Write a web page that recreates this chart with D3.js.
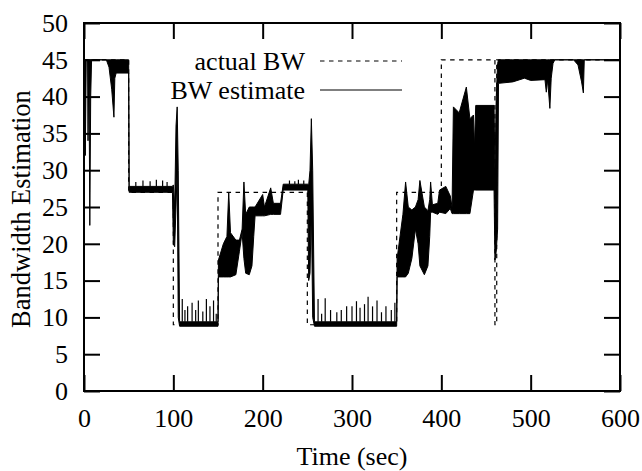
<!DOCTYPE html>
<html>
<head>
<meta charset="utf-8">
<script src="https://cdn.jsdelivr.net/npm/d3@7"></script>
<style>
  body { margin: 0; background: #fff; }
  text { font-family: "Liberation Serif", "Times New Roman", serif; }
</style>
</head>
<body>
<div id="chart"></div>
<script>
// actual bandwidth, a step function: value holds from each start time
var actualStart = [0, 50, 100, 150, 250, 350, 400, 460, 462, 600];
var actualBW    = [45, 27, 9, 27, 9, 27, 45, 9, 45, 45];

// estimated bandwidth, read as a lower / upper envelope (the trace oscillates fast)
var estTime = [0, 1, 1.5, 2.5, 4, 4.5, 5.5, 6.5, 7.5, 8.5, 25, 28, 31, 33.5, 34.5, 36, 50,
    50.5, 99, 100, 101.5, 103, 104.3, 105.5, 107, 150,
    150.5, 156, 160, 162, 164, 170, 174, 177, 179, 181, 185, 188, 190, 191.5, 200, 202, 209, 212, 220,
    223, 250.5, 251.5, 253, 254.5, 256, 258, 350,
    350.5, 357, 360, 363, 367, 371, 374, 376, 381, 385, 387, 388, 390, 396, 398, 405, 410, 412,
    413.5, 420, 428, 432, 436, 437, 438.5, 459, 460, 461.5, 463,
    464, 480, 493, 500, 516, 517.5, 519, 521.5, 523, 525, 527, 548, 553, 557, 559, 560, 600];
var estLow = [45, 45, 32, 45, 45, 34, 45, 22.5, 40, 45, 45, 44, 41, 37.2, 42.5, 43.2, 43.2,
    27.0, 27.0, 20, 19.6, 25, 30, 10, 8.8, 8.8,
    15.5, 15.5, 15.5, 15.5, 15.5, 15.8, 19, 21.5, 18, 16, 15.8, 17, 21, 23.8, 23.8, 23.8, 24, 24, 24,
    27.3, 27.3, 15, 16, 25, 10, 8.8, 8.8,
    15.5, 15.5, 15.5, 16, 18, 22, 20, 17, 15.8, 17, 21, 24.3, 24.3, 24, 24.3, 24.1, 24.8, 24.1,
    24.1, 24.1, 24.1, 24.1, 27.3, 27.3, 27.3, 27.3, 17.8, 19, 22,
    41.8, 42, 42.5, 42.2, 42.3, 40.6, 42.3, 38.4, 42.5, 44.5, 45, 45, 44.3, 42, 40.5, 45, 45];
var estHigh = [45, 45, 45, 45, 45, 45, 45, 45, 45, 45, 45, 45, 45, 45, 45, 45, 45,
    27.8, 27.8, 28, 25, 36, 38.6, 30, 9.4, 9.4,
    17.8, 20, 21, 27, 21.5, 20.5, 20.5, 22, 28.4, 24, 25, 25, 25, 25, 26.7, 25, 27.6, 25.5, 25.5,
    28.1, 28.1, 28, 30, 37, 30, 9.4, 9.4,
    18, 24, 28.4, 25, 24.6, 25, 26, 28.6, 25, 24.5, 26, 28.4, 25.3, 25.5, 27.3, 27.8, 26.5, 25,
    38.6, 37.8, 41.3, 37, 37.5, 33, 38.8, 38.8, 30, 40, 44.5,
    45, 45, 45, 45, 45, 45, 45, 45, 45, 45, 45, 45, 45, 45, 45, 45, 45];

// short noise spikes on the flat stretches
var spikeTime = [58, 66, 74, 81, 88, 93,
    110, 113, 116, 121, 125, 128, 133, 137, 141, 145, 148,
    230, 236, 240, 246,
    262, 266, 270, 276, 283, 288, 294, 300, 305, 309, 314, 318, 323, 328, 333, 338, 344, 348];
var spikeBase = [27.8, 27.8, 27.8, 27.8, 27.8, 27.8,
    9.4, 9.4, 9.4, 9.4, 9.4, 9.4, 9.4, 9.4, 9.4, 9.4, 9.4,
    28.1, 28.1, 28.1, 28.1,
    9.4, 9.4, 9.4, 9.4, 9.4, 9.4, 9.4, 9.4, 9.4, 9.4, 9.4, 9.4, 9.4, 9.4, 9.4, 9.4, 9.4, 9.4];
var spikeTop = [28.4, 28.6, 28.5, 28.7, 28.6, 28.4,
    12.5, 11, 11.5, 12, 11, 12.3, 10.8, 12.5, 11.5, 12.3, 10.5,
    28.6, 28.5, 28.7, 28.6,
    12.5, 10.5, 12.6, 11, 10.7, 11, 11.5, 11.5, 12.2, 11.3, 11.8, 12.8, 11.5, 12.3, 10.7, 11.5, 11, 12];

var xTicks = [0, 100, 200, 300, 400, 500, 600];
var yTicks = [0, 5, 10, 15, 20, 25, 30, 35, 40, 45, 50];

var margin = {top: 23, right: 22, bottom: 80, left: 84},
    width = 642 - margin.left - margin.right,
    height = 471 - margin.top - margin.bottom;

var svg = d3.select("#chart").append("svg")
    .attr("width", 642)
    .attr("height", 471)
    .append("g")
    .attr("transform", "translate(" + margin.left + "," + margin.top + ")");

var x = d3.scaleLinear().domain([0, 600]).range([0, width]);
var y = d3.scaleLinear().domain([0, 50]).range([height, 0]);

var tickLen = 16;

// plot clip
svg.append("clipPath").attr("id", "clip")
    .append("rect").attr("width", width).attr("height", height);

var plot = svg.append("g").attr("clip-path", "url(#clip)");

// actual BW, dashed steps
var actual = actualStart.map(function (t, i) { return {t: t, v: actualBW[i]}; });
plot.append("path")
    .datum(actual)
    .attr("fill", "none")
    .attr("stroke", "#000")
    .attr("stroke-width", 1.2)
    .attr("stroke-dasharray", "4.5,4.5")
    .attr("d", d3.line()
        .x(function (d) { return x(d.t); })
        .y(function (d) { return y(d.v); })
        .curve(d3.curveStepAfter));

// BW estimate envelope
var est = estTime.map(function (t, i) { return {t: t, lo: estLow[i], hi: estHigh[i]}; });
plot.append("path")
    .datum(est)
    .attr("fill", "#000")
    .attr("stroke", "#000")
    .attr("stroke-width", 1)
    .attr("d", d3.area()
        .x(function (d) { return x(d.t); })
        .y0(function (d) { return y(d.lo); })
        .y1(function (d) { return y(d.hi); }));

plot.selectAll(".spike")
    .data(spikeTime)
    .enter().append("line")
    .attr("class", "spike")
    .attr("x1", function (d) { return x(d); })
    .attr("x2", function (d) { return x(d); })
    .attr("y1", function (d, i) { return y(spikeBase[i]); })
    .attr("y2", function (d, i) { return y(spikeTop[i]); })
    .attr("stroke", "#000")
    .attr("stroke-width", 1.2);

// axes: ticks pointing inward, mirrored on all four sides
var axBottom = svg.append("g")
    .attr("transform", "translate(0," + height + ")")
    .call(d3.axisBottom(x).tickValues(xTicks).tickSizeInner(-tickLen).tickSizeOuter(0).tickPadding(18));
var axTop = svg.append("g")
    .call(d3.axisTop(x).tickValues(xTicks).tickSizeInner(-tickLen).tickSizeOuter(0).tickFormat(""));
var axLeft = svg.append("g")
    .call(d3.axisLeft(y).tickValues(yTicks).tickSizeInner(-tickLen).tickSizeOuter(0).tickPadding(16));
var axRight = svg.append("g")
    .attr("transform", "translate(" + width + ",0)")
    .call(d3.axisRight(y).tickValues(yTicks).tickSizeInner(-tickLen).tickSizeOuter(0).tickFormat(""));

[axBottom, axTop, axLeft, axRight].forEach(function (a) {
    a.select(".domain").remove();
    a.selectAll(".tick line").attr("stroke", "#000").attr("stroke-width", 2);
    a.selectAll(".tick text")
        .attr("fill", "#000")
        .style("font-family", "'Liberation Serif', serif")
        .style("font-size", "26px");
});

svg.append("rect")
    .attr("width", width)
    .attr("height", height)
    .attr("fill", "none")
    .attr("stroke", "#000")
    .attr("stroke-width", 2);

// axis titles
svg.append("text")
    .attr("x", width / 2)
    .attr("y", height + 74)
    .attr("text-anchor", "middle")
    .style("font-size", "26px")
    .text("Time (sec)");

svg.append("text")
    .attr("transform", "translate(" + (-54) + "," + (height / 2 + 2) + ") rotate(-90)")
    .attr("text-anchor", "middle")
    .style("font-size", "26.5px")
    .text("Bandwidth Estimation");

// legend
var legend = [
    {label: "actual BW", dash: "4.5,4.5", y: 38},
    {label: "BW estimate", dash: null, y: 67}
];
var lg = svg.selectAll(".legend")
    .data(legend)
    .enter().append("g")
    .attr("class", "legend");
lg.append("text")
    .attr("x", 221)
    .attr("y", function (d) { return d.y + 9; })
    .attr("text-anchor", "end")
    .style("font-size", "26px")
    .text(function (d) { return d.label; });
lg.append("line")
    .attr("x1", 236)
    .attr("x2", 318)
    .attr("y1", function (d) { return d.y; })
    .attr("y2", function (d) { return d.y; })
    .attr("stroke", "#000")
    .attr("stroke-width", 1.2)
    .attr("stroke-dasharray", function (d) { return d.dash; });
</script>
</body>
</html>
